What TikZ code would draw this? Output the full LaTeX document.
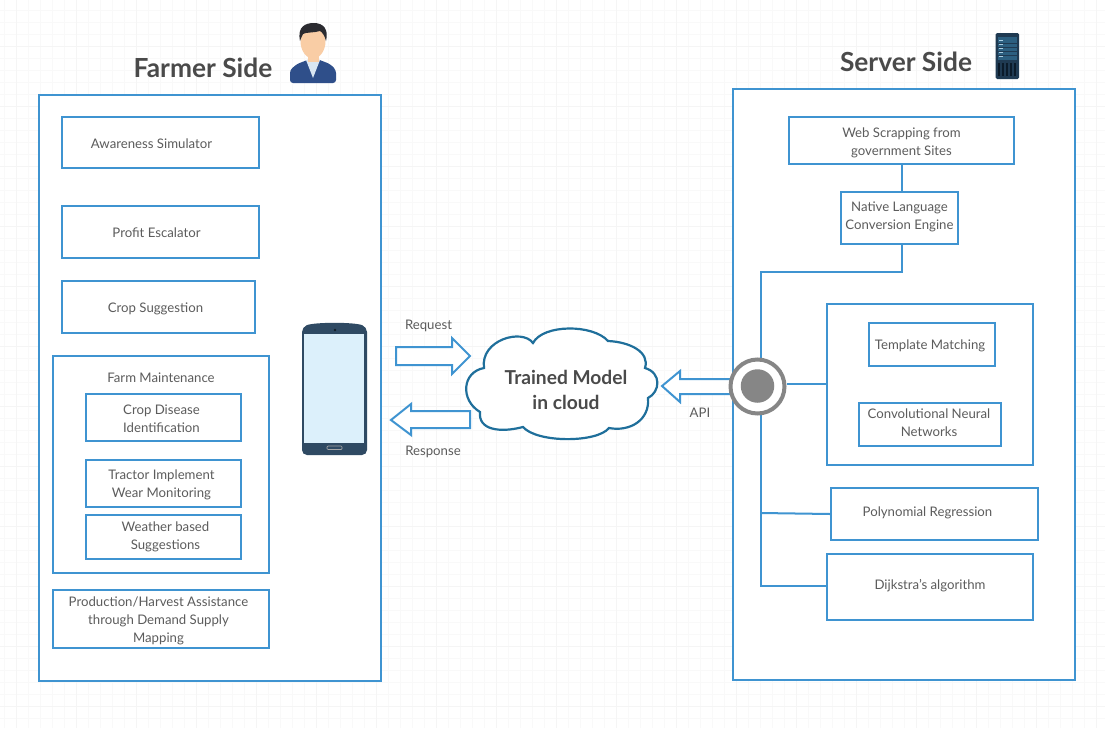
\documentclass[tikz,border=0pt]{standalone}
\usepackage{fontspec}
\setmainfont{Lato}
\definecolor{bl}{HTML}{3F94D1}
\definecolor{cl}{HTML}{1F6F9B}
\definecolor{tx}{HTML}{5C5C5C}
\definecolor{ttl}{HTML}{4A4A4A}
\definecolor{dk}{HTML}{2F4A63}
\definecolor{scr}{HTML}{DCF0FB}
\definecolor{suit}{HTML}{2F4F8A}
\definecolor{shirt}{HTML}{D9E6F2}
\definecolor{skin}{HTML}{F9CDA5}
\definecolor{hair}{HTML}{2B2B30}
\definecolor{srvA}{HTML}{1F3A52}
\definecolor{srvB}{HTML}{2C5F80}
\definecolor{srvC}{HTML}{A9CDE2}
\definecolor{srvD}{HTML}{0B1B2A}
\tikzset{
  x=1pt,y=-1pt,
  bx/.style={draw=bl,line width=2pt,fill=white,inner sep=0pt},
  lnk/.style={draw=bl,line width=2pt},
  blk/.style={draw=bl,line width=2pt,fill=white,line join=miter},
  lbl/.style={text=tx,font=\fontsize{13.2}{18}\selectfont,inner sep=0pt,align=center},
  ttlb/.style={text=ttl,font=\fontsize{26.3}{30}\bfseries\selectfont,inner sep=0pt},
  junc/.style={circle,draw=gray!95,line width=4pt,fill=white,minimum size=54pt,inner sep=0pt},
  juncin/.style={circle,fill=gray!95,minimum size=33.5pt,inner sep=0pt},
}
% name, x0, y0, x1, y1, text dx, text dy, text
\newcommand{\bxn}[8]{\node[bx,minimum width=#4pt-#2pt,minimum height=#5pt-#3pt,anchor=center,
  label={[lbl,xshift=#6pt,yshift=-#7pt]center:{#8}}] (#1) at ({(#2+#4)/2},{(#3+#5)/2}) {};}
\begin{document}
\begin{tikzpicture}
\useasboundingbox (0,0) rectangle (1105,728);
\fill[white] (0,0) rectangle (1105,728);
% grid
\foreach \i in {0,12,...,1104} \draw[draw=black!2.5,line width=.6pt] (\i+4,0) -- (\i+4,728);
\foreach \i in {0,12,...,727} \draw[draw=black!2.5,line width=.6pt] (0,\i+10) -- (1105,\i+10);
\foreach \i in {0,60,...,1104} \draw[draw=black!4,line width=.6pt] (\i+16,0) -- (\i+16,728);
\foreach \i in {0,60,...,727} \draw[draw=black!4,line width=.6pt] (0,\i+46) -- (1105,\i+46);
% panels
\bxn{farmer}{39}{95}{381}{681}{0}{0}{}
\bxn{server}{733}{89}{1075}{680}{0}{0}{}
% farmer side
\bxn{aware}{62}{117}{259}{168}{-9}{1}{Awareness Simulator}
\bxn{profit}{62}{206}{259}{258}{-4}{1}{Profit Escalator}
\bxn{crop}{62}{281}{255}{333}{-3}{2}{Crop Suggestion}
\bxn{maint}{53}{356}{269}{573}{0}{0}{}
\node[lbl] (mainttxt) at (161,378) {Farm Maintenance};
\bxn{disease}{86}{394}{241}{441}{-2}{1}{Crop Disease\\Identification}
\bxn{tractor}{86}{460}{241}{507}{-2}{1}{Tractor Implement\\Wear Monitoring}
\bxn{weather}{86}{515}{241}{559}{2}{0}{Weather based\\ Suggestions}
\bxn{prod}{53}{590}{269}{648}{-2.5}{2}{Production/Harvest Assistance\\through Demand Supply\\Mapping}
% server side connectors
\coordinate (elbowA) at (902,272);
\coordinate (elbowB) at (761,272);
\coordinate (elbowC) at (761,586);
\bxn{web}{789}{117}{1014}{164}{0}{2}{Web Scrapping from\\government Sites}
\bxn{native}{841}{192}{958}{244}{0}{-1}{Native Language\\Conversion Engine}
\bxn{group}{827}{304}{1033}{465}{0}{0}{}
\bxn{templ}{869}{323}{995}{366}{-2}{1}{Template Matching}
\bxn{cnn}{859}{403}{1001}{446}{-1}{-2}{Convolutional Neural\\Networks}
\bxn{poly}{831}{488}{1038}{540}{-7}{-1}{Polynomial Regression}
\bxn{dijk}{827}{554}{1033}{620}{0}{-1}{Dijkstra’s algorithm}
\coordinate (polyj) at (761,513);
\coordinate (groupj) at (827,384);
\coordinate (webj) at (902,164);
\coordinate (natj) at (902,192);
\coordinate (natb) at (902,244);
\coordinate (dijj) at (827,586);
\draw[lnk] (webj) -- (natj);
\draw[lnk] (natb) -- (elbowA) -- (elbowB) -- (elbowC) -- (dijj);
\draw[lnk] (polyj) -- (poly.west);
% block arrows
\draw[blk] (730,379) -- (680,379) -- (680,371) -- (662,386) -- (680,402) -- (680,394) -- (730,394);
\draw[blk] (396,347) -- (452,347) -- (452,338) -- (470,356) -- (452,374) -- (452,365) -- (396,365) -- cycle;
\draw[blk] (470,411) -- (411,411) -- (411,404) -- (391,420) -- (411,435) -- (411,428) -- (470,428) -- cycle;
% junction
\node[junc] (hub) at (757.5,386.5) {};
\node[juncin] (hubin) at (757.5,386) {};
\draw[lnk] (hub.east |- groupj) -- (groupj);
% cloud
\draw[draw=cl,line width=2.2pt,fill=white]
 (484,368) .. controls (480,340) and (522,328) .. (533,343)
 .. controls (543,324) and (593,324) .. (608,341)
 .. controls (630,342) and (650,352) .. (645,368)
 .. controls (662,373) and (660,392) .. (648,398)
 .. controls (650,420) and (630,432) .. (609,428)
 .. controls (597,443) and (537,443) .. (523,427)
 .. controls (500,433) and (478,430) .. (480,412)
 .. controls (460,400) and (462,372) .. (484,368) -- cycle;
\node[text=ttl,font=\fontsize{19.2}{25.5}\bfseries\selectfont,align=center,inner sep=0pt] (cloudtxt) at (566,390) {Trained Model\\in cloud};
% labels
\node[lbl] (req) at (428.5,326) {Request};
\node[lbl] (resp) at (433,452) {Response};
\node[lbl] (api) at (700,413) {API};
\node[ttlb] (ft) at (203,68) {Farmer Side};
\node[ttlb] (st) at (906,62) {Server Side};
% phone
\fill[dk,rounded corners=5pt] (302,327) .. controls (315,322) and (354,322) .. (367,327) -- (367,455) -- (302,455) -- cycle;
\fill[scr] (304.4,334) rectangle (364.4,442.5);
\fill[black!60!dk] (335,330) circle (1.3pt);
\draw[gray!70,line width=.7pt,rounded corners=1pt] (327,446) rectangle (342,449.5);
% person
\fill[suit,rounded corners=3pt] (290,83) -- (290,70) -- (297,64) -- (310,59) -- (317,59) -- (330,64) -- (336,70) -- (336,83) -- cycle;
\fill[shirt] (306,60) -- (320,60) -- (313,78) -- cycle;
\fill[skin] (308,50) rectangle (319,62);
\fill[skin] (313,41) ellipse (12.5pt and 17.5pt);
\fill[hair] (300,41) .. controls (297,26) and (306,23) .. (314,23) .. controls (323,23) and (329,29) .. (326,41) .. controls (325,36) and (322,32) .. (320,31) .. controls (314,33) and (306,32) .. (303,34) .. controls (302,36) and (301,38) .. (300,41) -- cycle;
% server icon
\fill[srvA,rounded corners=1.5pt] (995.5,33) rectangle (1019,79);
\fill[srvB] (998,37) rectangle (1017,60);
\foreach \y in {40,44,48,52,56} \fill[srvC] (999,\y) rectangle (1003,\y+1.2);
\foreach \y in {43,47,51,55} \fill[srvA] (998,\y) rectangle (1017,\y+.5);
\foreach \xx in {998,1002,1006,1010,1014} \fill[srvD] (\xx,63) rectangle (\xx+2.4,76);
\end{tikzpicture}
\end{document}
